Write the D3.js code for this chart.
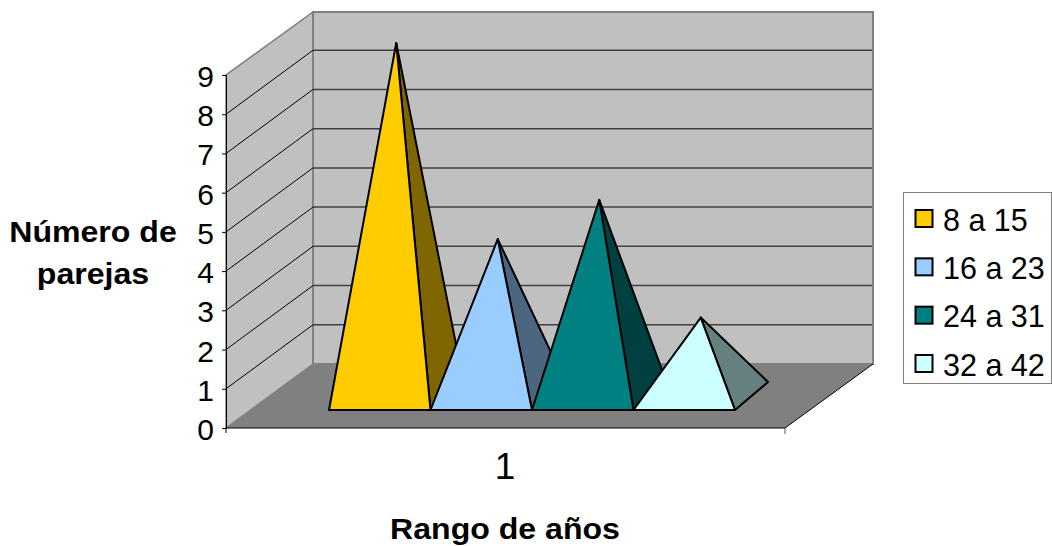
<!DOCTYPE html>
<html>
<head>
<meta charset="utf-8">
<script src="https://d3js.org/d3.v7.min.js"></script>
<style>
  html, body { margin: 0; padding: 0; background: #fff; }
  text { font-family: "Liberation Sans", Arial, sans-serif; fill: #000; }
</style>
</head>
<body>
<div id="chart"></div>
<script>
const seriesNames = ["8 a 15", "16 a 23", "24 a 31", "32 a 42"];
const seriesValues = [9, 4, 5, 2];
const frontColors = ["#FFCC00", "#99CCFF", "#008080", "#CCFFFF"];
const sideColors = ["#806600", "#4D6680", "#004040", "#668080"];
const yTicks = d3.range(0, 10);
const categoryLabel = "1";

const width = 1052, height = 546;

// Proyección oblicua del gráfico 3D
const frontLeft = 226, frontRight = 785, frontBase = 428, frontTop = 75;
const depthX = 87, depthY = -64;

const y = d3.scaleLinear().domain([0, 9]).range([frontBase, frontTop]);
const unit = y(0) - y(1);
const x = d3.scaleBand().domain(seriesNames).range([329, 735]);

// Profundidad de la base de cada pirámide
const baseY = 410, baseDepthX = 33, baseDepthY = -28;

const svg = d3.select("#chart").append("svg")
  .attr("width", width).attr("height", height)
  .style("display", "block");

const poly = pts => pts.map(p => p.join(",")).join(" ");

// Texto ensanchado, el original está estirado en horizontal
function label(px, py, txt, size, anchor, weight, sx) {
  svg.append("text")
    .attr("transform", `translate(${px},${py}) scale(${sx},1)`)
    .attr("text-anchor", anchor)
    .attr("font-size", size)
    .attr("font-weight", weight)
    .text(txt);
}

// Paredes y suelo
const bl = frontLeft + depthX, br = frontRight + depthX;
const backBase = frontBase + depthY, backTop = frontTop + depthY + 1;

svg.append("polygon")
  .attr("points", poly([[frontLeft, frontBase], [bl, backBase], [bl, backTop], [frontLeft, frontTop]]))
  .attr("fill", "#C0C0C0").attr("stroke", "#808080").attr("stroke-width", 1.5);
svg.append("rect")
  .attr("x", bl).attr("y", backTop)
  .attr("width", br + 1 - bl).attr("height", backBase - backTop)
  .attr("fill", "#C0C0C0").attr("stroke", "#808080").attr("stroke-width", 2);
svg.append("polygon")
  .attr("points", poly([[frontLeft, frontBase], [bl, backBase], [br + 1, backBase], [frontRight, frontBase]]))
  .attr("fill", "#808080");

// Rejilla
const gridTicks = yTicks.slice(1, -1);
svg.append("g").selectAll("line")
  .data(gridTicks).join("line")
  .attr("x1", frontLeft).attr("y1", d => y(d))
  .attr("x2", bl).attr("y2", d => y(d) + depthY)
  .attr("stroke", "#000").attr("stroke-width", 1);
svg.append("g").selectAll("line")
  .data(gridTicks).join("line")
  .attr("x1", bl).attr("y1", d => y(d) + depthY)
  .attr("x2", br).attr("y2", d => y(d) + depthY)
  .attr("stroke", "#404040").attr("stroke-width", 1.5);

// Borde del suelo
svg.append("polyline")
  .attr("points", poly([[frontLeft, frontBase], [frontRight, frontBase], [br + 1, backBase]]))
  .attr("fill", "none").attr("stroke", "#000").attr("stroke-width", 1);

// Ejes
svg.append("g")
  .attr("transform", `translate(${frontLeft},0)`)
  .call(d3.axisLeft(y).tickValues(yTicks).tickSize(4).tickFormat(""))
  .call(g => g.selectAll("path,line").attr("stroke", "#000"));
svg.append("line")
  .attr("x1", frontLeft).attr("x2", frontLeft).attr("y1", frontBase).attr("y2", frontBase + 5).attr("stroke", "#000");
svg.append("line")
  .attr("x1", frontRight).attr("x2", frontRight).attr("y1", frontBase).attr("y2", frontBase + 6).attr("stroke", "#555");

yTicks.forEach(d => label(214, y(d) + 12, d, 30, "end", "normal", 1));

// Pirámides
seriesNames.forEach((name, i) => {
  const x0 = x(name), x1 = x0 + x.bandwidth();
  const apex = [
    (x0 + x1) / 2 + baseDepthX / 2,
    baseY + baseDepthY / 2 - seriesValues[i] * unit
  ];
  const g = svg.append("g")
    .attr("stroke", "#000").attr("stroke-width", 2).attr("stroke-linejoin", "round");
  g.append("polygon")
    .attr("points", poly([[x1, baseY], [x1 + baseDepthX, baseY + baseDepthY], apex]))
    .attr("fill", sideColors[i]);
  g.append("polygon")
    .attr("points", poly([[x0, baseY], [x1, baseY], apex]))
    .attr("fill", frontColors[i]);
});

// Leyenda
svg.append("rect")
  .attr("x", 903.5).attr("y", 192.5).attr("width", 148).attr("height", 191)
  .attr("fill", "#fff").attr("stroke", "#808080").attr("stroke-width", 1);
const legendY = d3.scalePoint().domain(seriesNames).range([219, 364]);
seriesNames.forEach((name, i) => {
  svg.append("rect")
    .attr("x", 915.5).attr("y", legendY(name) - 9)
    .attr("width", 17).attr("height", 17)
    .attr("fill", frontColors[i]).attr("stroke", "#000").attr("stroke-width", 2);
  label(943, legendY(name) + 11.5, name, 30.5, "start", "normal", 1);
});

// Títulos
label(505, 479, categoryLabel, 37, "middle", "normal", 1);
label(93, 242, "Número de", 30, "middle", "bold", 1.07);
label(93, 284, "parejas", 30, "middle", "bold", 1.07);
label(505, 539, "Rango de años", 30, "middle", "bold", 1.07);
</script>
</body>
</html>
